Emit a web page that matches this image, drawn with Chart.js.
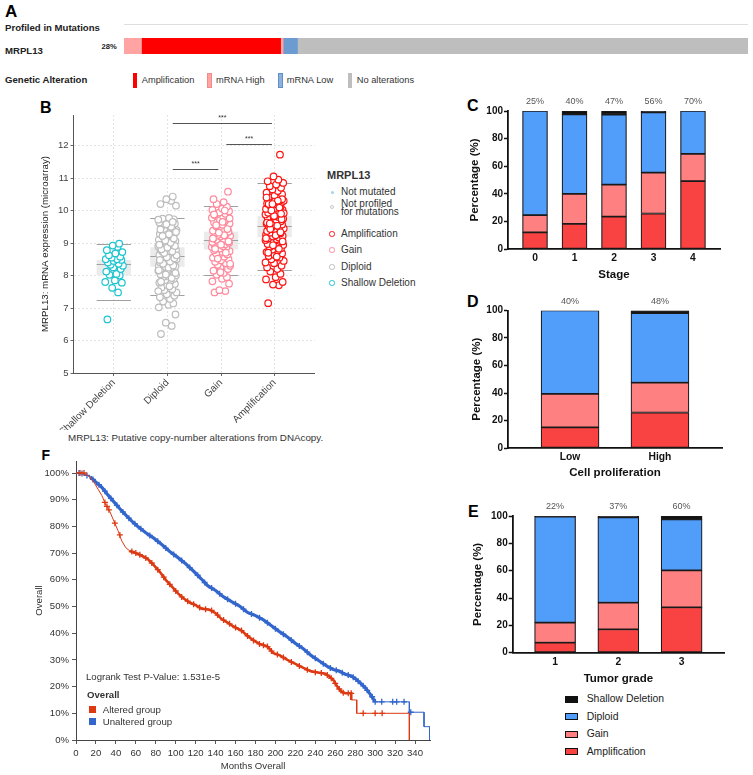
<!DOCTYPE html>
<html>
<head>
<meta charset="utf-8">
<script src="https://cdn.jsdelivr.net/npm/chart.js@4.4.1/dist/chart.umd.min.js"></script>
<style>
  body { margin: 0; background: #fff; }
  #fig { position: relative; width: 753px; height: 775px; overflow: hidden;
         font-family: "Liberation Sans", Arial, sans-serif; color: #222; }
  #fig canvas { position: absolute; }
  .t { position: absolute; white-space: nowrap; line-height: 1; }
  .sw { position: absolute; box-sizing: border-box; }
</style>
</head>
<body>
<div id="fig"></div>
<script>
// ---------- A: oncoprint summary (percent of samples) ----------
const oncoCats = ["mRNA High", "Amplification", "mRNA High", "mRNA Low", "No alterations"];
const oncoValues = [2.8, 22.3, 0.4, 2.3, 72.2];
const oncoAltered = "28%";

// ---------- B: expression by copy-number group ----------
const cnaCats = ["Shallow Deletion", "Diploid", "Gain", "Amplification"];
const shallowExpr = [6.65, 7.48, 7.62, 7.78, 7.8, 7.85, 8.0, 8.02, 8.05, 8.12, 8.2, 8.25, 8.3, 8.33, 8.36,
  8.4, 8.45, 8.48, 8.5, 8.5, 8.55, 8.58, 8.62, 8.68, 8.72, 8.78, 8.88, 8.92, 8.98];
const diploidExpr = [6.2, 6.45, 6.55, 6.8, 7.02, 7.1, 7.14, 7.2, 7.28, 7.33, 7.38, 7.42, 7.48, 7.55, 7.58,
  7.63, 7.7, 7.74, 7.78, 7.83, 7.86, 7.9, 7.94, 7.97, 8.01, 8.04, 8.06, 8.1, 8.13, 8.15, 8.18, 8.21, 8.23,
  8.26, 8.28, 8.3, 8.33, 8.35, 8.38, 8.4, 8.41, 8.44, 8.47, 8.5, 8.52, 8.54, 8.57, 8.59, 8.61, 8.63, 8.66,
  8.68, 8.7, 8.73, 8.75, 8.78, 8.8, 8.83, 8.85, 8.88, 8.9, 8.93, 8.96, 8.99, 9.03, 9.06, 9.1, 9.12, 9.17,
  9.2, 9.24, 9.28, 9.31, 9.36, 9.4, 9.44, 9.47, 9.52, 9.56, 9.6, 9.63, 9.67, 9.7, 9.73, 9.75, 9.77,
  10.15, 10.2, 10.3, 10.35, 10.43,
  7.52, 7.67, 7.81, 7.92, 8.03, 8.08, 8.16, 8.24, 8.31, 8.36, 8.43, 8.48, 8.53, 8.56, 8.62, 8.69, 8.74,
  8.81, 8.86, 8.91, 8.95, 9.01, 9.08, 9.14, 9.22, 9.27, 9.34, 9.42, 9.5, 9.58, 9.65, 9.72];
const gainExpr = [7.48, 7.52, 7.55, 7.75, 7.82, 7.9, 7.95, 8.02, 8.08, 8.15, 8.2, 8.25, 8.3, 8.33, 8.38,
  8.42, 8.47, 8.5, 8.55, 8.58, 8.62, 8.65, 8.68, 8.72, 8.75, 8.78, 8.8, 8.83, 8.86, 8.88, 8.9, 8.93, 8.96,
  8.98, 9.01, 9.03, 9.06, 9.08, 9.1, 9.12, 9.15, 9.17, 9.2, 9.22, 9.25, 9.28, 9.3, 9.33, 9.35, 9.38, 9.41,
  9.45, 9.48, 9.52, 9.56, 9.6, 9.63, 9.67, 9.7, 9.74, 9.78, 9.82, 9.86, 9.9, 9.94, 9.98, 10.02, 10.06,
  10.12, 10.2, 10.26, 10.35, 10.58,
  8.1, 8.36, 8.52, 8.7, 8.82, 8.95, 9.05, 9.14, 9.24, 9.32, 9.43, 9.55, 9.65, 9.76, 9.88, 10.0];
const ampExpr = [7.15, 7.7, 7.72, 7.8, 7.88, 7.95, 8.05, 8.12, 8.2, 8.25, 8.3, 8.38, 8.45, 8.5, 8.55, 8.6,
  8.63, 8.68, 8.72, 8.77, 8.8, 8.84, 8.88, 8.91, 8.94, 8.97, 9.0, 9.03, 9.06, 9.09, 9.12, 9.14, 9.17, 9.2,
  9.22, 9.25, 9.27, 9.3, 9.32, 9.35, 9.37, 9.4, 9.42, 9.45, 9.47, 9.5, 9.52, 9.55, 9.57, 9.6, 9.62, 9.65,
  9.67, 9.7, 9.72, 9.75, 9.77, 9.8, 9.82, 9.85, 9.88, 9.9, 9.93, 9.96, 9.99, 10.02, 10.05, 10.08, 10.11,
  10.15, 10.18, 10.22, 10.25, 10.28, 10.3, 10.33, 10.38, 10.42, 10.46, 10.5, 10.55, 10.6, 10.65, 10.7,
  10.75, 10.8, 10.85, 10.9, 10.95, 11.05, 11.72,
  8.4, 8.58, 8.7, 8.82, 8.93, 9.05, 9.15, 9.24, 9.33, 9.43, 9.53, 9.63, 9.73, 9.83, 9.92, 10.0, 10.09,
  10.2, 10.27, 10.35, 10.4, 10.3, 10.2, 9.9, 9.6];
const boxLow = [7.25, 7.4, 8.02, 8.18];
const boxQ1 = [8.0, 8.27, 8.8, 9.18];
const boxMedian = [8.35, 8.6, 9.1, 9.52];
const boxQ3 = [8.48, 8.87, 9.35, 9.83];
const boxHigh = [8.98, 9.77, 10.13, 10.85];
const sigFrom = [2, 3, 2];
const sigTo = [4, 4, 3];
const sigY = [12.68, 12.05, 11.28];
const sigText = ["***", "***", "***"];

// ---------- C, D, E: copy-number share (%) ----------
const stageCats = ["0", "1", "2", "3", "4"];
const stageAmp = [12, 18.2, 23.5, 25.7, 49.2];
const stageGain = [12.5, 21.8, 23.2, 29.7, 19.8];
const stageDiploid = [75.5, 57.5, 50.6, 43.6, 31];
const stageShallow = [0, 2.5, 2.7, 1, 0];
const stageAltered = ["25%", "40%", "47%", "56%", "70%"];

const prolifCats = ["Low", "High"];
const prolifAmp = [15, 25.8];
const prolifGain = [24.3, 21.7];
const prolifDiploid = [60.7, 50.5];
const prolifShallow = [0, 2];
const prolifAltered = ["40%", "48%"];

const gradeCats = ["1", "2", "3"];
const gradeAmp = [7.3, 17.1, 33.2];
const gradeGain = [14.7, 19.5, 27];
const gradeDiploid = [77.5, 62.4, 37.3];
const gradeShallow = [0.5, 1, 2.5];
const gradeAltered = ["22%", "37%", "60%"];

// ---------- F: overall survival, [months, %] ----------
const alteredCurve = [[0,100],[5,100],[10,99.5],[14,98.5],[18,96.5],[22,94],[26,91.5],[30,88],[34,85.5],
  [38,82],[42,78.5],[46,74.5],[50,72],[54,70.8],[60,70],[66,69],[72,67.8],[78,65.5],[84,63],[90,60],
  [96,57.5],[102,55],[108,53],[114,51.5],[120,50.5],[126,49.2],[134,48.8],[140,47.5],[146,45.3],[152,44],
  [158,42.5],[166,41],[172,39],[178,37.3],[184,36],[192,35],[198,32.5],[204,31.8],[212,30],[220,28.5],
  [228,27],[236,25.7],[244,25.2],[250,24.8],[254,23.8],[258,22.5],[262,20],[266,18.2],[270,17.5],
  [276,17.5],[276,15],[281.5,15],[281.5,10],[334.3,10],[334.3,0]];
const unalteredCurve = [[0,100],[8,99.6],[14,98.6],[20,96.6],[26,94.6],[32,91.8],[38,89.2],[44,86.6],
  [50,84.2],[56,82],[62,80],[70,77.6],[78,75.6],[86,73.2],[94,70.6],[102,68.4],[110,66],[118,63.2],
  [126,60.2],[132,57.8],[140,56],[148,53.6],[156,51.8],[164,50.2],[172,47.8],[180,46.6],[188,45],
  [196,42.8],[204,40.6],[212,38.6],[220,36.2],[228,34.2],[236,31.6],[244,29.6],[252,27.6],[258,26.4],
  [264,25.8],[270,24.6],[276,24],[280,23],[285,21.4],[290,19.6],[295,17.2],[300,14.3],[334.3,14.3],
  [334.3,10.4],[349,10.4],[349,5],[354.5,5],[354.5,0]];
const alteredCensor = [[4,100],[8,100],[29,89],[31,87.5],[33,86.2],[39,81.2],[44,76.8],[56,70.6],[60,70],
  [64,69.4],[70,68.2],[76,66.3],[82,63.8],[88,61],[94,58.3],[100,55.8],[106,53.6],[112,52],[118,50.8],
  [124,49.6],[130,49],[136,48.5],[142,46.8],[148,44.9],[154,43.5],[160,42.1],[166,41],[172,39],[178,37.3],
  [184,36],[188,35.5],[192,35],[196,33.3],[202,32],[208,30.9],[216,29.2],[224,27.7],[232,26.3],[240,25.4],
  [246,25.1],[252,24.3],[256,23.1],[260,21.2],[264,19.1],[268,17.7],[273,17.5],[276,17.5],[288,10],
  [300,10],[307,10]];
const unalteredCensor = [[3,100],[6,99.8],[11,99.1],[17,97.6],[23,95.6],[29,93.2],[35,90.5],[41,87.9],
  [47,85.4],[53,83.1],[59,81],[65,79.1],[74,76.6],[82,74.4],[90,71.9],[98,69.5],[106,67.2],[114,64.6],
  [122,61.7],[129,59],[136,56.9],[144,54.8],[152,52.7],[160,51],[168,49],[176,47.2],[184,45.8],[192,43.9],
  [200,41.7],[208,39.6],[216,37.4],[224,35.2],[232,32.9],[240,30.6],[248,28.6],[255,27],[261,26.1],
  [267,25.2],[273,24.3],[278,23.5],[283,22],[288,20.3],[292,18.6],[297,16.2],[300,14.3],[306.6,14.3],
  [317.6,14.3],[321.6,14.3],[329,14.3],[335.7,10.4]];
const logrankText = "Logrank Test P-Value: 1.531e-5";

// ---------- helpers ----------
const FONT = '"Liberation Sans", Arial, sans-serif';
Chart.defaults.font.family = FONT;
Chart.defaults.color = "#333";
const fig = document.getElementById("fig");

function addCanvas(left, top, w, h) {
  const c = document.createElement("canvas");
  c.width = w; c.height = h;
  c.style.left = left + "px"; c.style.top = top + "px";
  c.style.width = w + "px"; c.style.height = h + "px";
  fig.appendChild(c);
  return c;
}
function addText(text, x, cy, size, bold, color) {
  const d = document.createElement("div");
  d.className = "t";
  d.textContent = text;
  d.style.left = x + "px";
  d.style.top = (cy - size * 0.5) + "px";
  d.style.fontSize = size + "px";
  if (bold) d.style.fontWeight = "bold";
  if (color) d.style.color = color;
  fig.appendChild(d);
  return d;
}
function addBox(x, y, w, h, fill, border, radius) {
  const d = document.createElement("div");
  d.className = "sw";
  Object.assign(d.style, { left: x + "px", top: y + "px", width: w + "px", height: h + "px",
    background: fill, border: border || "none", borderRadius: radius || "0" });
  fig.appendChild(d);
}

// ---------- panel A ----------
addText("A", 5, 11, 17, true, "#000");
addText("Profiled in Mutations", 5, 28, 9.6, true, "#222");
addBox(124, 23.5, 624, 1.5, "#dedede");
addText("MRPL13", 5, 50.5, 9.6, true, "#222");
addText(oncoAltered, 101.5, 46.5, 7.6, true, "#222");
const oncoColors = ["#ffa3a3", "#ff0000", "#ffa3a3", "#6b9bd1", "#bebebe"];
new Chart(addCanvas(124, 37.5, 624, 16.5), {
  type: "bar",
  data: {
    labels: ["MRPL13"],
    datasets: oncoCats.map((c, i) => ({ label: c, data: [oncoValues[i]], backgroundColor: oncoColors[i],
      barPercentage: 1, categoryPercentage: 1, borderWidth: 0 }))
  },
  options: {
    indexAxis: "y", responsive: false, animation: false,
    plugins: { legend: { display: false }, tooltip: { enabled: false } },
    scales: { x: { stacked: true, min: 0, max: 100, display: false }, y: { stacked: true, display: false } }
  }
});
addText("Genetic Alteration", 5, 79.5, 9.6, true, "#222");
addBox(133.3, 72.7, 4, 15.6, "#ff0000");
addText("Amplification", 141.7, 81, 9.3, false, "#333");
addBox(207.3, 72.7, 5, 15.6, "#ffa3a3", "1px solid #f48a8a");
addText("mRNA High", 216, 81, 9.3, false, "#333");
addBox(278.3, 72.7, 5, 15.6, "#8fb0da", "1px solid #5d8fcc");
addText("mRNA Low", 286.7, 81, 9.3, false, "#333");
addBox(347.7, 72.7, 4.6, 15.6, "#bebebe");
addText("No alterations", 356.7, 81, 9.3, false, "#333");

// ---------- panel B ----------
addText("B", 40, 108, 16, true, "#000");
// horizontal spread of the strip plot, in category units
const jitter = [-0.12, 0.08, -0.03, 0.15, -0.16, 0.02, 0.11, -0.08, 0.05, -0.14, 0.13, -0.01, 0.17, -0.06,
  0.09, -0.11, 0.0, 0.14, -0.15, 0.06, -0.04, 0.12, -0.09, 0.03, 0.16, -0.13, 0.07, -0.02, 0.1, -0.17, 0.04];
const strip = (vals, cat) => vals.map((v, i) => ({ x: cat + jitter[i % jitter.length], y: v }));
const cnaColors = ["#1ec5d0", "#bdbdbd", "#ff8a9c", "#ff1414"];

const boxPlugin = {
  id: "cnaBoxes",
  beforeDatasetsDraw(chart) {
    const { ctx, scales: { x, y } } = chart;
    ctx.save();
    cnaCats.forEach((c, i) => {
      const l = x.getPixelForValue(i + 1 - 0.32), r = x.getPixelForValue(i + 1 + 0.32);
      const t = y.getPixelForValue(boxQ3[i]), b = y.getPixelForValue(boxQ1[i]);
      ctx.fillStyle = "#ebebeb";
      ctx.fillRect(l, t, r - l, b - t);
      ctx.strokeStyle = "#a0a0a0";
      ctx.lineWidth = 1;
      [boxLow[i], boxMedian[i], boxHigh[i]].forEach(v => {
        const py = Math.round(y.getPixelForValue(v)) + 0.5;
        ctx.beginPath(); ctx.moveTo(l, py); ctx.lineTo(r, py); ctx.stroke();
      });
    });
    ctx.restore();
  },
  afterDatasetsDraw(chart) {
    const { ctx, scales: { x, y } } = chart;
    ctx.save();
    ctx.strokeStyle = "#555";
    ctx.lineWidth = 1;
    ctx.fillStyle = "#333";
    ctx.font = "7px " + FONT;
    ctx.textAlign = "center";
    ctx.textBaseline = "bottom";
    sigFrom.forEach((f, i) => {
      const x0 = x.getPixelForValue(f + 0.1), x1 = x.getPixelForValue(sigTo[i] - 0.05);
      const py = Math.round(y.getPixelForValue(sigY[i])) + 0.5;
      ctx.beginPath(); ctx.moveTo(x0, py); ctx.lineTo(x1, py); ctx.stroke();
      ctx.fillText(sigText[i], (x0 + x1) / 2, py - 1.5);
    });
    ctx.restore();
  }
};

new Chart(addCanvas(20, 95, 300, 335), {
  type: "scatter",
  data: {
    datasets: [shallowExpr, diploidExpr, gainExpr, ampExpr].map((vals, i) => ({
      label: cnaCats[i], data: strip(vals, i + 1),
      pointRadius: 3.3, pointBorderWidth: 1.2, pointBorderColor: cnaColors[i],
      pointBackgroundColor: "#fff", order: 4 - i
    }))
  },
  options: {
    responsive: false, animation: false,
    layout: { padding: { left: 20, top: 20, right: 3, bottom: 0 } },
    plugins: { legend: { display: false }, tooltip: { enabled: false } },
    scales: {
      x: {
        type: "linear", min: 0.25, max: 4.75, offset: false,
        afterBuildTicks: s => { s.ticks = cnaCats.map((c, i) => ({ value: i + 1 })); },
        afterFit: s => { s.height = 57; },
        ticks: { callback: v => cnaCats[v - 1], minRotation: 45, maxRotation: 45, autoSkip: false,
          font: { size: 10 }, color: "#444", padding: 1 },
        grid: { color: "#e4e4e4", tickLength: 3, tickColor: "#666" },
        border: { color: "#555", width: 1, dash: [2, 2] }
      },
      y: {
        min: 5, max: 12.94,
        afterFit: s => { s.width = 33.6; },
        ticks: { stepSize: 1, includeBounds: false, font: { size: 9.5 }, color: "#444", padding: 2 },
        grid: { color: "#e4e4e4", tickLength: 3, tickColor: "#666" },
        border: { color: "#555", width: 1, dash: [2, 2] },
        title: { display: true, text: "MRPL13: mRNA expression (microarray)", font: { size: 9.7 },
          color: "#222", padding: 0 }
      }
    }
  },
  plugins: [boxPlugin]
});
// B legend
addText("MRPL13", 327, 175, 11, true, "#333");
addBox(330.5, 190.5, 3, 3, "#9fd3ee", "none", "50%");
addText("Not mutated", 341, 192, 10, false, "#333");
addBox(330, 205, 4, 4, "#fff", "1px solid #c8c8c8", "50%");
addText("Not profiled", 341, 204, 10, false, "#333");
addText("for mutations", 341, 212, 10, false, "#333");
const bLegendY = [234, 250, 267, 283];
[3, 2, 1, 0].forEach((ci, k) => {
  addBox(329.3, bLegendY[k] - 2.7, 5.4, 5.4, "#fff", "1.2px solid " + cnaColors[ci], "50%");
  addText(cnaCats[ci], 341, bLegendY[k], 10, false, "#333");
});
addText("MRPL13: Putative copy-number alterations from DNAcopy.", 68, 438, 9.8, false, "#333");

// ---------- panels C, D, E ----------
const ampColor = "#f94343", gainColor = "#ff8080", diploidColor = "#519dfa", shallowColor = "#111";
const topLabelPlugin = {
  id: "topLabels",
  afterDraw(chart, args, opts) {
    const { ctx, scales: { x, y } } = chart;
    ctx.save();
    ctx.font = "9px " + FONT;
    ctx.fillStyle = "#555";
    ctx.textAlign = "center";
    ctx.textBaseline = "middle";
    opts.labels.forEach((t, i) => ctx.fillText(t, x.getPixelForValue(i), y.getPixelForValue(100) - 9));
    ctx.restore();
  }
};
function stackedPanel(g, cats, amp, gain, dip, shallow, altered, xTitle) {
  const half = 6.9; // half line height of the axis titles
  const canvas = addCanvas(g.left, g.top, g.w, g.h);
  const toPts = arr => arr.map((v, i) => ({ x: i, y: v }));
  const tickFont = { size: 10.3, weight: "bold" };
  const titleFont = { size: 11.5, weight: "bold" };
  return new Chart(canvas, {
    type: "bar",
    data: {
      datasets: [
        { label: "Amplification", data: toPts(amp), backgroundColor: ampColor },
        { label: "Gain", data: toPts(gain), backgroundColor: gainColor },
        { label: "Diploid", data: toPts(dip), backgroundColor: diploidColor },
        { label: "Shallow Deletion", data: toPts(shallow), backgroundColor: shallowColor }
      ]
    },
    options: {
      responsive: false, animation: false,
      layout: { padding: { left: g.yTitleX - half - g.left, top: g.t - g.top, right: g.left + g.w - g.r,
        bottom: g.top + g.h - (g.xTitleY + half) } },
      datasets: { bar: { barThickness: g.barW, borderColor: "#1a1a1a", borderWidth: 1.2, borderSkipped: false } },
      plugins: { legend: { display: false }, tooltip: { enabled: false }, topLabels: { labels: altered } },
      scales: {
        x: {
          type: "linear", stacked: true, offset: false, min: -g.edge, max: cats.length - 1 + g.edge,
          afterBuildTicks: s => { s.ticks = cats.map((c, i) => ({ value: i })); },
          afterFit: s => { s.height = g.xTitleY + half - g.b; },
          ticks: { callback: v => cats[v], font: tickFont, color: "#111", padding: 3, maxRotation: 0, autoSkip: false },
          grid: { drawOnChartArea: false, drawTicks: false, offset: false },
          border: { color: "#111", width: 1.8 },
          title: { display: true, text: xTitle, font: titleFont, color: "#111", padding: 0 }
        },
        y: {
          stacked: true, min: 0, max: 100,
          afterFit: s => { s.width = g.l - (g.yTitleX - half); },
          ticks: { stepSize: 20, font: { size: 10, weight: "bold" }, color: "#111", padding: 1 },
          grid: { drawOnChartArea: false, tickLength: 4, tickColor: "#111", tickWidth: 1.5 },
          border: { color: "#111", width: 1.8 },
          title: { display: true, text: "Percentage (%)", font: titleFont, color: "#111", padding: 0 }
        }
      }
    },
    plugins: [topLabelPlugin]
  });
}

addText("C", 467, 106, 16, true, "#000");
stackedPanel({ left: 440, top: 95, w: 313, h: 195, l: 508, r: 720, t: 111, b: 249, yTitleX: 475,
  xTitleY: 275, barW: 25, edge: 0.684 }, stageCats, stageAmp, stageGain, stageDiploid, stageShallow,
  stageAltered, "Stage");
addText("D", 467, 301.5, 16, true, "#000");
stackedPanel({ left: 440, top: 292, w: 313, h: 195, l: 508, r: 722, t: 310.5, b: 448, yTitleX: 476.7,
  xTitleY: 473, barW: 58, edge: 0.69 }, prolifCats, prolifAmp, prolifGain, prolifDiploid, prolifShallow,
  prolifAltered, "Cell proliferation");
addText("E", 468, 511.5, 16, true, "#000");
stackedPanel({ left: 440, top: 495, w: 313, h: 195, l: 512.7, r: 724, t: 516, b: 652.7, yTitleX: 478.3,
  xTitleY: 679, barW: 41, edge: 0.67 }, gradeCats, gradeAmp, gradeGain, gradeDiploid, gradeShallow,
  gradeAltered, "Tumor grade");
// shared legend
const legNames = ["Shallow Deletion", "Diploid", "Gain", "Amplification"];
const legColors = [shallowColor, diploidColor, gainColor, ampColor];
const legY = [699, 716.7, 734.3, 751.7];
legNames.forEach((n, i) => {
  addBox(565, legY[i] - 3.5, 13.3, 7, legColors[i], "1.2px solid #111");
  addText(n, 586.7, legY[i], 10.4, false, "#222");
});

// ---------- panel F ----------
addText("F", 41.5, 455, 14, true, "#000");
const altColor = "#dc3912", unaltColor = "#3366cc";
const pts = arr => arr.map(p => ({ x: p[0], y: p[1] }));
new Chart(addCanvas(0, 445, 440, 330), {
  type: "scatter",
  data: {
    datasets: [
      { label: "Altered group", data: pts(alteredCurve), showLine: true, borderColor: altColor, pointRadius: 0,
        segment: { borderWidth: c => (c.p0.parsed.x >= 54 && c.p1.parsed.x <= 276) ? 2.6 : 1 } },
      { label: "Altered censored", data: pts(alteredCensor), pointStyle: "cross", pointRadius: 3,
        pointBorderWidth: 1.3, pointBorderColor: altColor },
      { label: "Unaltered group", data: pts(unalteredCurve), showLine: true, borderColor: unaltColor,
        pointRadius: 0,
        segment: { borderWidth: c => (c.p0.parsed.x >= 14 && c.p1.parsed.x <= 300) ? 3.2 : 1 } },
      { label: "Unaltered censored", data: pts(unalteredCensor), pointStyle: "cross", pointRadius: 3,
        pointBorderWidth: 1.3, pointBorderColor: unaltColor }
    ]
  },
  options: {
    responsive: false, animation: false,
    layout: { padding: { left: 34, top: 16, right: 10, bottom: 2.4 } },
    plugins: { legend: { display: false }, tooltip: { enabled: false } },
    scales: {
      x: {
        type: "linear", min: 0, max: 355,
        afterFit: s => { s.height = 32.6; },
        ticks: { stepSize: 20, includeBounds: false, font: { size: 9.6 }, color: "#333", padding: 4,
          maxRotation: 0, autoSkip: false },
        grid: { drawOnChartArea: false, tickLength: 4, tickColor: "#555" },
        border: { color: "#444", width: 1 },
        title: { display: true, text: "Months Overall", font: { size: 9.6 }, color: "#333", padding: 0 }
      },
      y: {
        min: 0, max: 104.5,
        afterFit: s => { s.width = 42; },
        ticks: { stepSize: 10, includeBounds: false, callback: v => v + "%", font: { size: 9.6 },
          color: "#333", padding: 3 },
        grid: { drawOnChartArea: false, tickLength: 4, tickColor: "#555" },
        border: { color: "#444", width: 1 },
        title: { display: true, text: "Overall", font: { size: 9.6 }, color: "#333", padding: 0 }
      }
    }
  }
});
addText(logrankText, 86, 677, 9.6, false, "#333");
addText("Overall", 87, 695, 9.6, true, "#333");
addBox(89, 706, 6.7, 6.7, altColor);
addText("Altered group", 102.7, 709.5, 9.7, false, "#333");
addBox(89, 718.3, 6.7, 6.7, unaltColor);
addText("Unaltered group", 102.7, 721.7, 9.7, false, "#333");
</script>
</body>
</html>
